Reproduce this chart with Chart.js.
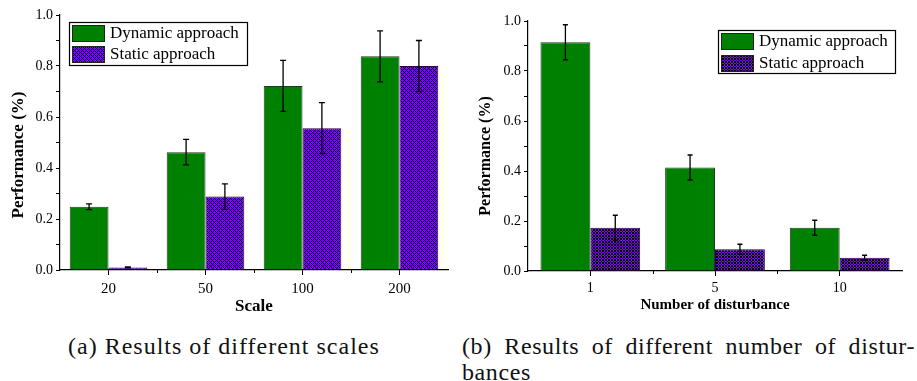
<!DOCTYPE html>
<html>
<head>
<meta charset="utf-8">
<script src="https://cdn.jsdelivr.net/npm/chart.js@4.4.1/dist/chart.umd.min.js"></script>
<style>
  body { margin: 0; background: #fff; width: 917px; height: 381px; position: relative; overflow: hidden; font-family: "Liberation Serif", serif; }
  #wrapA { position: absolute; left: 0; top: 0; width: 460px; height: 320px; }
  #wrapB { position: absolute; left: 460px; top: 0; width: 457px; height: 320px; }
  .cap { position: absolute; font-size: 24px; color: #111; white-space: nowrap; line-height: 26px; letter-spacing: 1px; }
  #capA { left: 68px; top: 333px; }
  #capB1 { left: 462px; top: 333px; width: 453px; text-align: justify; text-align-last: justify; letter-spacing: 0.6px; }
  #capB2 { left: 462px; top: 359px; letter-spacing: 0.6px; }
</style>
</head>
<body>
<div id="wrapA"><canvas id="chartA"></canvas></div>
<div id="wrapB"><canvas id="chartB"></canvas></div>
<div class="cap" id="capA">(a) Results of different scales</div>
<div class="cap" id="capB1">(b) Results of different number of distur-</div>
<div class="cap" id="capB2">bances</div>
<script>
// (a) different scales
const scaleLabels = ["20", "50", "100", "200"];
const scaleDynamic = [0.248, 0.462, 0.722, 0.838];
const scaleDynamicErr = [0.011, 0.05, 0.1, 0.1];
const scaleStatic = [0.01, 0.288, 0.556, 0.80];
const scaleStaticErr = [0.002, 0.05, 0.1, 0.1];

// (b) different number of disturbances
const disturbLabels = ["1", "5", "10"];
const disturbDynamic = [0.915, 0.414, 0.173];
const disturbDynamicErr = [0.07, 0.05, 0.03];
const disturbStatic = [0.173, 0.087, 0.053];
const disturbStaticErr = [0.05, 0.02, 0.01];

const seriesNames = ["Dynamic approach", "Static approach"];
const yMin = 0, yMax = 1, yStep = 0.1;

const SERIF = "'Liberation Serif', 'Times New Roman', serif";

function hatch(size) {
  const c = document.createElement("canvas");
  c.width = c.height = size;
  const g = c.getContext("2d");
  g.fillStyle = "#7f00ff";
  g.fillRect(0, 0, size, size);
  g.fillStyle = "#000";
  for (let x = 0; x < size; x++) {
    for (let y = 0; y < size; y++) {
      if ((x + y) % size === 0 || (x - y + size) % size === 0) g.fillRect(x, y, 1, 1);
    }
  }
  return g.createPattern(c, "repeat");
}

// error bars, drawn from the value scale
const errorBars = {
  id: "errorBars",
  afterDatasetsDraw(chart) {
    const ctx = chart.ctx;
    const yS = chart.scales.y;
    const cap = chart.options.plugins.errorBars.cap;
    ctx.save();
    ctx.strokeStyle = "#000";
    ctx.lineWidth = 1.3;
    chart.data.datasets.forEach((ds, i) => {
      const meta = chart.getDatasetMeta(i);
      meta.data.forEach((bar, j) => {
        const v = ds.data[j], e = ds.errors[j];
        const top = yS.getPixelForValue(v + e);
        const bot = yS.getPixelForValue(Math.max(v - e, 0));
        ctx.beginPath();
        ctx.moveTo(bar.x, top); ctx.lineTo(bar.x, bot);
        ctx.moveTo(bar.x - cap, top); ctx.lineTo(bar.x + cap, top);
        ctx.moveTo(bar.x - cap, bot); ctx.lineTo(bar.x + cap, bot);
        ctx.stroke();
      });
    });
    ctx.restore();
  }
};

// boxed legend inside the plot, y title, minor x ticks
const extras = {
  id: "extras",
  afterDraw(chart) {
    const ctx = chart.ctx;
    const o = chart.options.plugins.extras;
    const xS = chart.scales.x;
    const area = chart.chartArea;
    ctx.save();

    // minor ticks between categories
    ctx.strokeStyle = "#000";
    ctx.lineWidth = 1;
    for (let i = 1; i < chart.data.labels.length; i++) {
      const x = Math.round(xS.getPixelForValue(i - 0.5)) + 0.5;
      ctx.beginPath();
      ctx.moveTo(x, area.bottom); ctx.lineTo(x, area.bottom + 3);
      ctx.stroke();
    }

    // y title
    ctx.fillStyle = "#000";
    ctx.font = "bold " + o.yTitleSize + "px " + SERIF;
    ctx.textAlign = "center";
    ctx.textBaseline = "middle";
    ctx.translate(o.yTitleX, o.yTitleY);
    ctx.rotate(-Math.PI / 2);
    ctx.fillText(o.yTitle, 0, 0);
    ctx.setTransform(1, 0, 0, 1, 0, 0);

    // legend
    const L = o.legend;
    ctx.fillStyle = "#fff";
    ctx.fillRect(L.x, L.y, L.w, L.h);
    ctx.strokeStyle = "#000";
    ctx.lineWidth = 1.2;
    ctx.strokeRect(L.x + 0.5, L.y + 0.5, L.w, L.h);
    ctx.font = L.size + "px " + SERIF;
    ctx.textAlign = "left";
    ctx.textBaseline = "middle";
    chart.data.datasets.forEach((ds, i) => {
      const sy = L.y + L.pad + i * L.row;
      ctx.fillStyle = ds.backgroundColor;
      ctx.fillRect(L.x + 3, sy, L.sw, L.sh);
      ctx.strokeStyle = "#222";
      ctx.lineWidth = 1;
      ctx.strokeRect(L.x + 3.5, sy + 0.5, L.sw, L.sh);
      ctx.fillStyle = "#000";
      ctx.fillText(ds.label, L.x + L.sw + 9, sy + L.sh / 2 + 1);
    });
    ctx.restore();
  }
};

function makeChart(id, cfg) {
  const ctx = document.getElementById(id).getContext("2d");
  return new Chart(ctx, {
    type: "bar",
    data: {
      labels: cfg.labels,
      datasets: [{
        label: seriesNames[0],
        data: cfg.dynamic,
        errors: cfg.dynamicErr,
        backgroundColor: "#008000",
        borderColor: "#1f3a1f",
        borderWidth: 1,
        barPercentage: 1,
        categoryPercentage: 0.8
      }, {
        label: seriesNames[1],
        data: cfg.stat,
        errors: cfg.statErr,
        backgroundColor: hatch(cfg.hatchSize),
        borderColor: "#2a0050",
        borderWidth: 1,
        barPercentage: 1,
        categoryPercentage: 0.8
      }]
    },
    options: {
      responsive: true,
      maintainAspectRatio: false,
      animation: false,
      layout: { autoPadding: false, padding: cfg.padding },
      plugins: {
        legend: { display: false },
        tooltip: { enabled: false },
        errorBars: { cap: cfg.cap },
        extras: cfg.extras
      },
      scales: {
        x: {
          afterFit: s => { s.height = cfg.xHeight; },
          grid: { display: true, drawOnChartArea: false, offset: false, tickLength: 5, color: "#000" },
          border: { display: true, color: "#000", width: 1.2 },
          ticks: { color: "#000", font: { family: SERIF, size: cfg.xTickSize }, padding: cfg.xTickPad },
          title: { display: true, text: cfg.xTitle, color: "#000", font: { family: SERIF, size: cfg.xTitleSize, weight: "bold" }, padding: { top: 0, bottom: 0 } }
        },
        y: {
          min: yMin, max: yMax,
          afterFit: s => { s.width = cfg.yWidth; },
          grid: { display: true, drawOnChartArea: false, tickLength: 4, color: "#000" },
          border: { display: true, color: "#000", width: 1.2 },
          ticks: {
            stepSize: yStep, autoSkip: false, color: "#000", padding: 3,
            font: { family: SERIF, size: cfg.yTickSize },
            callback: v => (Math.round(v * 10) % 2 === 0 ? v.toFixed(1) : "")
          }
        }
      }
    },
    plugins: [errorBars, extras]
  });
}

makeChart("chartA", {
  labels: scaleLabels, dynamic: scaleDynamic, dynamicErr: scaleDynamicErr,
  stat: scaleStatic, statErr: scaleStaticErr,
  hatchSize: 4, cap: 3,
  padding: { left: 0, right: 12, top: 15, bottom: 3 },
  yWidth: 60, xHeight: 47, xTickPad: 5,
  xTitle: "Scale", xTitleSize: 17, xTickSize: 15, yTickSize: 14,
  extras: {
    yTitle: "Performance (%)", yTitleSize: 17, yTitleX: 19, yTitleY: 155,
    legend: { x: 69, y: 22, w: 178, h: 43, pad: 3, row: 21, sw: 32, sh: 16, size: 17 }
  }
});

makeChart("chartB", {
  labels: disturbLabels, dynamic: disturbDynamic, dynamicErr: disturbDynamicErr,
  stat: disturbStatic, statErr: disturbStaticErr,
  hatchSize: 3, cap: 2.5,
  padding: { left: 0, right: 15, top: 21, bottom: 6 },
  yWidth: 68, xHeight: 43, xTickPad: 4,
  xTitle: "Number of disturbance", xTitleSize: 15, xTickSize: 14, yTickSize: 14,
  extras: {
    yTitle: "Performance (%)", yTitleSize: 16, yTitleX: 26, yTitleY: 156,
    legend: { x: 258, y: 30, w: 177, h: 43, pad: 3, row: 22, sw: 32, sh: 16, size: 17 }
  }
});
</script>
</body>
</html>
